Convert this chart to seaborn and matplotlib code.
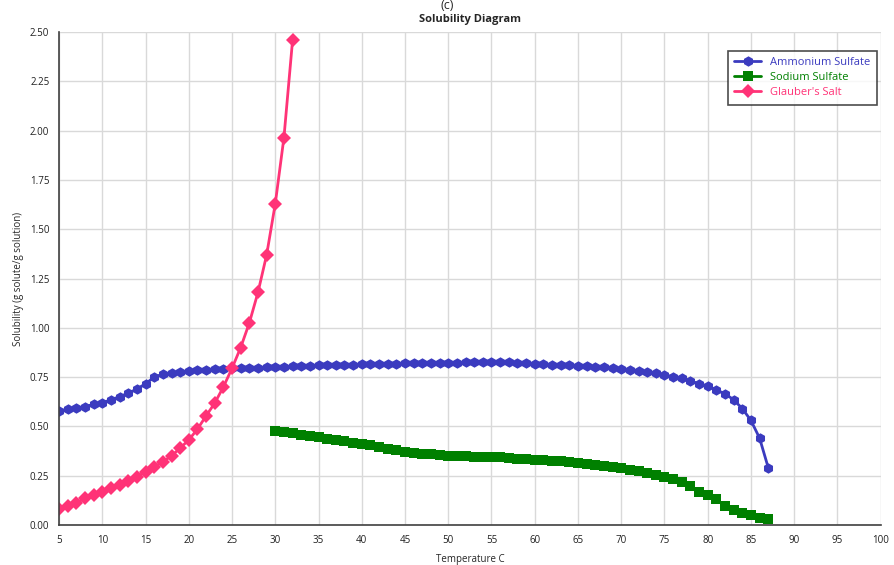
import numpy as np
import pandas as pd
import matplotlib
matplotlib.use("Agg")
import matplotlib.pyplot as plt
import seaborn as sns

# DATA
ammonium_t = list(range(5, 88))
ammonium_s = [
    0.578, 0.587, 0.592, 0.600, 0.612, 0.620, 0.635, 0.651, 0.668, 0.690,
    0.716, 0.750, 0.765, 0.770, 0.775, 0.780, 0.784, 0.787, 0.790, 0.792,
    0.795, 0.797, 0.798, 0.798, 0.799, 0.800, 0.802, 0.804, 0.806, 0.808,
    0.809, 0.810, 0.811, 0.812, 0.813, 0.814, 0.815, 0.816, 0.817, 0.818,
    0.819, 0.819, 0.820, 0.820, 0.821, 0.822, 0.823, 0.824, 0.825, 0.825,
    0.826, 0.825, 0.824, 0.822, 0.819, 0.816, 0.814, 0.812, 0.810, 0.809,
    0.807, 0.804, 0.801, 0.799, 0.796, 0.792, 0.787, 0.782, 0.776, 0.769,
    0.760, 0.752, 0.745, 0.732, 0.715, 0.705, 0.685, 0.665, 0.635, 0.590,
    0.530, 0.440, 0.290,
]

sodium_t = list(range(30, 88))
sodium_s = [
    0.477, 0.472, 0.465, 0.458, 0.450, 0.444, 0.437, 0.430, 0.424, 0.417,
    0.411, 0.403, 0.395, 0.387, 0.379, 0.372, 0.366, 0.362, 0.358, 0.355,
    0.352, 0.351, 0.349, 0.347, 0.346, 0.344, 0.342, 0.339, 0.336, 0.333,
    0.330, 0.327, 0.324, 0.322, 0.319, 0.316, 0.311, 0.305, 0.299, 0.294,
    0.288, 0.280, 0.272, 0.263, 0.254, 0.245, 0.233, 0.220, 0.198, 0.169,
    0.152, 0.130, 0.096, 0.073, 0.059, 0.050, 0.037, 0.029,
]

glauber_t = list(range(5, 33))
glauber_s = [
    0.082, 0.096, 0.113, 0.134, 0.152, 0.169, 0.186, 0.203, 0.223, 0.245,
    0.268, 0.293, 0.321, 0.350, 0.390, 0.431, 0.486, 0.553, 0.618, 0.700,
    0.795, 0.900, 1.025, 1.180, 1.370, 1.630, 1.965, 2.460,
]

names = ["Ammonium Sulfate", "Sodium Sulfate", "Glauber's Salt"]
colors = {"Ammonium Sulfate": "#3b3bbf",
          "Sodium Sulfate": "#008000",
          "Glauber's Salt": "#ff3377"}
markers = {"Ammonium Sulfate": "h",
           "Sodium Sulfate": "s",
           "Glauber's Salt": "D"}

x_ticks = list(range(5, 101, 5))
y_ticks = [0.0, 0.25, 0.5, 0.75, 1.0, 1.25, 1.5, 1.75, 2.0, 2.25, 2.5]

df = pd.concat([
    pd.DataFrame({"t": ammonium_t, "s": ammonium_s, "salt": names[0]}),
    pd.DataFrame({"t": sodium_t, "s": sodium_s, "salt": names[1]}),
    pd.DataFrame({"t": glauber_t, "s": glauber_s, "salt": names[2]}),
], ignore_index=True)

sns.set_style("white")
plt.rcParams["font.family"] = ["Open Sans", "DejaVu Sans"]

fig = plt.figure(figsize=(8.95, 5.65), dpi=100)
ax = fig.add_axes([0.066, 0.071, 0.918, 0.872])

sns.lineplot(
    data=df, x="t", y="s", hue="salt", style="salt",
    hue_order=names, style_order=names,
    palette=colors, markers=markers, dashes=False,
    linewidth=2, markersize=7, markeredgewidth=0,
    estimator=None, sort=False, ax=ax,
)
# marker sizes per series, as in the original
size_by_marker = {"h": 7.5, "s": 6.5, "D": 7.5}
for line in ax.get_lines():
    m = line.get_marker()
    if m in size_by_marker:
        line.set_markersize(size_by_marker[m])

ax.set_xlim(5, 100)
ax.set_ylim(0, 2.5)
ax.set_xticks(x_ticks)
ax.set_yticks(y_ticks)
ax.set_yticklabels([f"{v:.2f}" for v in y_ticks])
ax.grid(True, color="#d9d9d9", linewidth=1)
ax.set_axisbelow(True)

for side in ["top", "right"]:
    ax.spines[side].set_visible(False)
for side in ["left", "bottom"]:
    ax.spines[side].set_color("#404040")
    ax.spines[side].set_linewidth(1.2)
ax.tick_params(axis="both", direction="out", length=4, width=1,
               color="#404040", labelsize=7, pad=3, labelcolor="#202020")

ax.set_xlabel("Temperature C", fontsize=7, labelpad=6)
ax.set_ylabel("Solubility (g solute/g solution)", fontsize=7, labelpad=4)
ax.set_title("Solubility Diagram", fontsize=8, fontweight="bold", pad=7)

fig.text(0.5, 0.99, "(c)", ha="center", va="center", fontsize=9)

leg = ax.legend(loc="upper right", bbox_to_anchor=(1.002, 0.974),
                frameon=True, fancybox=False, fontsize=8,
                handlelength=2.4, borderpad=0.6, labelspacing=0.35)
leg.get_frame().set_edgecolor("#202020")
leg.get_frame().set_linewidth(1.2)
for txt in leg.get_texts():
    txt.set_color(colors[txt.get_text()])

fig.savefig("out.png", dpi=100)
